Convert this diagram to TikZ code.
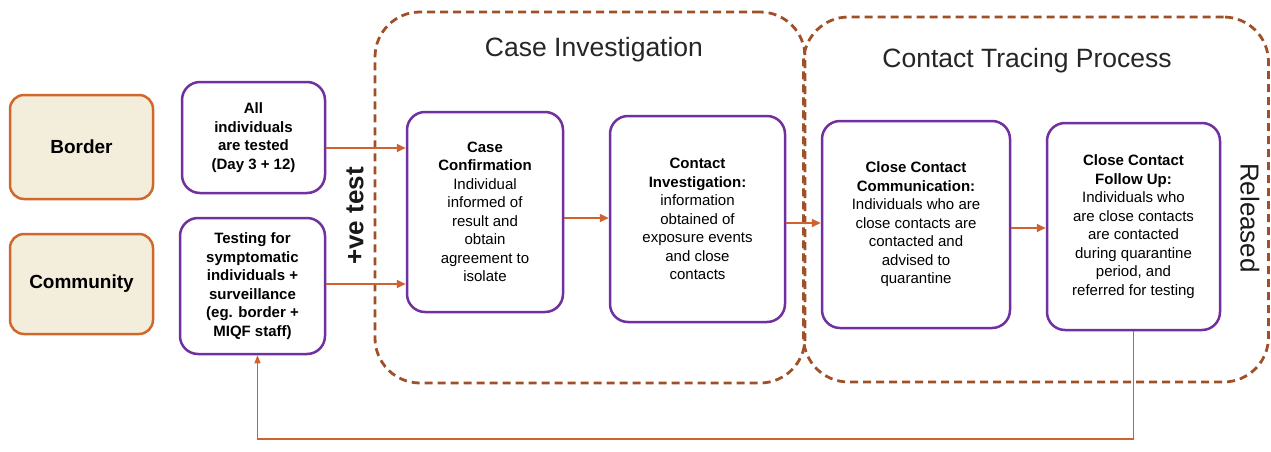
\documentclass[tikz,border=0pt]{standalone}
\usepackage{fontspec}
\setmainfont{Liberation Sans}
\usetikzlibrary{arrows.meta}
\definecolor{orng}{RGB}{208,104,44}
\definecolor{purp}{RGB}{112,48,160}
\definecolor{beige}{RGB}{243,237,220}
\definecolor{brn}{RGB}{160,80,40}
\definecolor{arrc}{RGB}{208,98,48}
\begin{document}
\begin{tikzpicture}[x=1pt,y=-1pt,
  srcbox/.style={draw=orng,line width=2.5pt,fill=beige,rounded corners=14pt,font=\fontsize{19}{22}\selectfont\bfseries},
  stepbox/.style={draw=purp,line width=2.5pt,fill=white,rounded corners=18pt,align=center,inner sep=0pt,font=\fontsize{15}{18.5}\selectfont},
  grp/.style={draw=brn,line width=2.8pt,dash pattern=on 8pt off 5pt,rounded corners=45pt,inner sep=0pt},
  grptitle/.style={font=\fontsize{26.5}{30}\selectfont,text=black!85},
  sidelabel/.style={font=\fontsize{26}{30}\selectfont,text=black!90},
  arr/.style={draw=arrc,line width=1.8pt,-{Triangle[length=9pt,width=8pt]}},
  thinarr/.style={draw=arrc,line width=1.2pt,-{Triangle[length=8pt,width=6pt]}}]
\useasboundingbox[fill=white] (0,0) rectangle (1271,452);

% groups
\node[grp,minimum width=430pt,minimum height=371pt] (CI) at (590,197.5) {};
\node[grp,minimum width=465pt,minimum height=365pt] (CT) at (1036,199.5) {};
\node[grptitle] (CItitle) at (594,50) {Case Investigation};
\node[grptitle] (CTtitle) at (1027,61) {Contact Tracing Process};

% source boxes
\node[srcbox,minimum width=143pt,minimum height=104pt] (Border) at (81.5,147) {Border};
\node[srcbox,minimum width=143pt,minimum height=100pt] (Community) at (81.5,284) {Community};

% step boxes
\node[stepbox,minimum width=143pt,minimum height=111pt,font=\fontsize{15}{18.5}\selectfont\bfseries] (All) at (253.5,137.5)
  {All\\individuals\\are tested\\(Day 3 + 12)};
\node[stepbox,minimum width=145pt,minimum height=136pt,font=\fontsize{15}{18.5}\selectfont\bfseries] (Testing) at (252.5,286)
  {Testing for\\symptomatic\\individuals +\\surveillance\\(eg. border +\\MIQF staff)};
\node[stepbox,minimum width=156pt,minimum height=200pt] (CaseConf) at (485,212)
  {\textbf{Case}\\\textbf{Confirmation}\\Individual\\informed of\\result and\\obtain\\agreement to\\isolate};
\node[stepbox,minimum width=175pt,minimum height=206pt] (ContactInv) at (697.5,219)
  {\textbf{Contact}\\\textbf{Investigation:}\\information\\obtained of\\exposure events\\and close\\contacts};
\node[stepbox,minimum width=188pt,minimum height=207pt] (CCC) at (916,224.5)
  {\textbf{Close Contact}\\\textbf{Communication:}\\Individuals who are\\close contacts are\\contacted and\\advised to\\quarantine};
\node[stepbox,minimum width=173pt,minimum height=207pt] (FU) at (1133.5,226.5)
  {\textbf{Close Contact}\\\textbf{Follow Up:}\\Individuals who\\are close contacts\\are contacted\\during quarantine\\period, and\\referred for testing};

% side labels
\node[sidelabel,font=\fontsize{26}{30}\selectfont\bfseries,rotate=90] (vetest) at (355,216) {+ve test};
\node[sidelabel,rotate=-90] (released) at (1250,218) {Released};

% connectors
\draw[arr] (All.east |- 0,148) -- (CaseConf.west |- 0,148);
\draw[arr] (Testing.east |- 0,284) -- (CaseConf.west |- 0,284);
\draw[arr] (CaseConf.east |- 0,218) -- (ContactInv.west |- 0,218);
\draw[arr] (ContactInv.east |- 0,223) -- (CCC.west |- 0,223);
\draw[arr] (CCC.east |- 0,228) -- (FU.west |- 0,228);
\draw[thinarr] (FU.south) -- (FU.south |- 0,439) -| ([xshift=5pt]Testing.south);
\end{tikzpicture}
\end{document}
